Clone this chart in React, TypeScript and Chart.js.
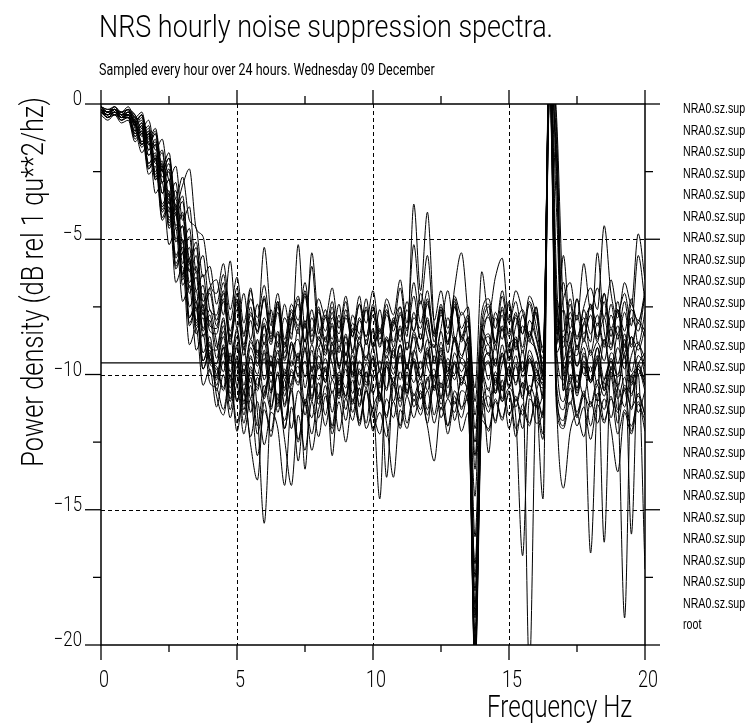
import { useEffect, useRef } from "react";
import { Chart, registerables } from "chart.js";

Chart.register(...registerables);

// Frequency axis (Hz) shared by every hourly spectrum
const freqHz = [0,0.25,0.5,0.75,1,1.25,1.5,1.75,2,2.25,2.5,2.75,3,3.25,3.5,3.75,4,4.25,4.5,4.75,5,5.25,5.5,5.75,6,6.25,6.5,6.75,7,7.25,7.5,7.75,8,8.25,8.5,8.75,9,9.25,9.5,9.75,10,10.25,10.5,10.75,11,11.25,11.5,11.75,12,12.25,12.5,12.75,13,13.25,13.5,13.75,14,14.25,14.5,14.75,15,15.25,15.5,15.75,16,16.25,16.5,16.75,17,17.25,17.5,17.75,18,18.25,18.5,18.75,19,19.25,19.5,19.75,20];

// Hourly power density spectra (dB)
const h00 = [-0.2,-0.4,-0.2,-0.5,-0.3,-0.8,-0.6,-1.7,-1.4,-2.9,-2.5,-4.6,-4.1,-6.6,-6.0,-8.3,-7.6,
  -8.8,-9.9,-8.5,-10.4,-9.0,-10.9,-8.7,-10.2, -9.3,-11.1,-8.8,-9.7,-8.3,-10.5,-9.1,-10.8,
  -8.9,-9.6,-10.7,-8.8,-9.9,-8.6,-10.3,-9.4, -11.0,-8.7,-9.8,-8.9,-10.6,-9.2,-8.5,-9.7,
  -10.1,-8.8,-9.9,-8.6,-10.4,-9.5,-18.0,-9.3, -10.2,-8.9,-10.6,-9.0,-8.7,-10.1,-9.4,-10.5,
  -11.5,2.0,-9.2,-8.6,-10.3,-8.9,-10.0,-9.1, -10.4,-8.7,-9.8,-8.5,-10.6,-9.3,-8.8,-10.1];
const h01 = [-0.1,-0.3,-0.1,-0.4,-0.2,-0.4,-0.9,-0.6,-1.7,-1.3,-2.8,-2.3,-4.3,-3.8,-6.2,-5.6,-7.6,
  -7.8,-6.6,-8.4,-7.2,-8.9,-7.5,-9.2,-7.9, -8.6,-7.3,-9.4,-8.0,-7.1,-8.8,-7.6,-9.0,
  -7.9,-8.7,-7.4,-9.3,-7.8,-8.5,-7.2,-8.9, -7.6,-9.1,-8.0,-8.6,-7.3,-8.4,-7.0,-8.2,
  -9.0,-7.7,-8.8,-7.5,-8.6,-9.2,-12.5,-8.1, -7.4,-8.9,-7.8,-9.4,-8.2,-7.6,-8.7,-9.1,
  -10.2,1.5,-7.9,-8.8,-7.4,-9.0,-8.1,-7.5, -8.6,-7.3,-8.9,-7.7,-9.2,-7.9,-8.4,-7.1];
const h02 = [-0.3,-0.5,-0.3,-0.6,-0.5,-1.2,-1.0,-2.3,-2.0,-3.9,-3.4,-6.0,-5.5,-8.2,-7.6,-9.8,-9.1,
  -10.6,-9.5,-11.3,-10.0,-11.8,-10.4,-12.2,-10.7, -9.9,-11.4,-10.2,-12.0,-10.6,-11.1,-9.8,-11.6,
  -10.4,-11.9,-10.1,-11.3,-9.9,-11.7,-10.5,-12.1, -10.8,-11.5,-10.3,-11.9,-10.0,-11.2,-10.6,-11.8,
  -10.2,-11.6,-10.9,-11.4,-10.1,-11.0,-20.5,-11.3, -10.5,-11.8,-10.2,-11.5,-10.8,-12.0,-10.4,-11.1,
  -12.4,0.8,-10.9,-11.7,-10.3,-11.4,-10.6,-11.9, -10.7,-11.3,-10.1,-11.8,-10.5,-11.2,-10.8,-11.5];
const h03 = [-0.2,-0.3,-0.4,-0.3,-0.5,-0.6,-1.4,-1.0,-2.6,-2.2,-4.2,-3.7,-6.3,-5.7,-8.1,-7.5,-9.4,
  -9.6,-8.4,-10.1,-8.9,-10.7,-9.3,-11.4,-15.5, -10.8,-9.2,-10.5,-8.8,-10.1,-9.5,-11.0,-9.0,
  -10.3,-8.9,-9.7,-10.8,-9.1,-10.4,-8.7,-9.9, -9.5,-10.6,-9.0,-10.2,-8.8,-9.6,-10.9,-9.3,
  -8.9,-10.5,-9.4,-10.0,-8.6,-10.3,-19.5,-10.1, -9.2,-10.7,-9.6,-8.9,-10.4,-9.1,-10.8,-9.5,
  -10.9,2.5,-6.5,-9.8,-9.0,-10.5,-9.3,-10.2, -9.0,-10.6,-9.4,-10.1,-8.7,-10.3,-9.6,-9.2];
const h04 = [-0.1,-0.2,-0.1,-0.3,-0.1,-0.5,-0.3,-1.3,-0.9,-2.3,-1.8,-3.8,-3.0,-2.4,-4.6,-4.9,-6.6,
  -7.0,-5.9,-7.6,-6.4,-8.1,-6.8,-8.5,-7.2, -8.7,-7.4,-9.0,-7.7,-8.3,-7.0,-8.8,-7.6,
  -9.1,-7.9,-8.5,-7.3,-9.2,-8.0,-8.6,-7.5, -8.9,-7.7,-8.2,-6.8,-8.4,-7.1,-8.7,-7.4,
  -8.5,-7.6,-8.9,-7.2,-8.3,-7.8,-11.5,-8.4, -7.5,-8.8,-7.1,-8.5,-7.7,-9.0,-7.3,-8.2,
  -9.6,1.2,-8.4,-7.6,-8.9,-7.2,-8.5,-7.8, -8.8,-7.0,-8.3,-7.6,-9.0,-7.4,-8.1,-6.9];
const h05 = [-0.3,-0.4,-0.2,-0.4,-0.4,-1.1,-0.8,-2.2,-1.9,-3.7,-3.2,-5.7,-5.1,-7.9,-7.3,-9.5,-8.8,
  -10.2,-9.0,-10.9,-9.5,-11.3,-9.9,-10.6,-9.4, -11.2,-10.0,-12.0,-10.3,-9.7,-11.5,-10.1,-10.9,
  -9.8,-11.4,-10.0,-10.8,-9.6,-11.1,-9.9,-11.6, -10.3,-9.7,-11.0,-9.9,-10.7,-9.5,-10.9,-10.2,
  -9.8,-11.1,-10.2,-9.6,-11.3,-10.4,-20.8,-10.0, -11.2,-9.9,-10.6,-9.7,-11.0,-10.3,-21.0,-10.7,
  -9.8,1.8,-1.5,-9.6,-11.1,-10.0,-10.8,-9.7, -11.0,-10.2,-9.5,-10.9,-10.1,-11.3,-9.8,-10.4];
const h06 = [-0.2,-0.3,-0.2,-0.4,-0.3,-0.4,-1.1,-0.8,-2.1,-1.7,-3.4,-2.9,-5.1,-4.6,-6.9,-6.3,-8.2,
  -8.3,-7.2,-8.8,-7.6,-9.3,-8.0,-9.6,-8.2, -8.9,-7.7,-9.5,-8.1,-7.4,-9.1,-7.9,-8.7,
  -7.8,-9.2,-8.0,-9.6,-8.3,-8.9,-7.6,-9.0, -8.4,-9.4,-8.1,-7.5,-8.6,-3.7,-6.9,-4.0,
  -8.2,-9.3,-7.9,-8.8,-7.7,-9.0,-14.5,-8.6, -9.3,-7.9,-8.7,-7.4,-9.1,-8.2,-8.8,-7.7,
  -9.9,1.0,-8.2,-9.0,-7.7,-8.6,-7.9,-9.2, -8.1,-9.0,-7.8,-8.5,-7.3,-8.9,-8.0,-8.4];
const h07 = [-0.4,-0.6,-0.4,-0.7,-0.6,-1.4,-1.1,-2.6,-2.3,-4.3,-3.8,-6.6,-6.0,-8.9,-8.3,-10.4,-9.8,
  -11.2,-10.0,-11.6,-10.4,-12.2,-10.9,-13.0,-11.3, -12.1,-10.7,-12.4,-14.1,-11.5,-12.8,-11.0,-12.3,
  -10.8,-12.0,-10.5,-11.7,-10.2,-11.9,-10.6,-11.4, -12.2,-10.9,-11.6,-10.4,-11.8,-10.7,-11.3,-10.1,
  -11.5,-10.3,-11.9,-10.6,-11.2,-10.9,-21.0,-11.6, -10.8,-11.7,-10.4,-12.0,-10.9,-11.5,-10.6,-11.8,
  -11.3,0.5,-10.7,-11.9,-10.5,-11.6,-10.8,-11.2, -10.4,-11.7,-10.9,-11.4,-10.6,-12.1,-10.7,-11.5];
const h08 = [-0.2,-0.5,-0.3,-0.4,-0.4,-1.0,-0.7,-1.9,-1.5,-3.3,-2.8,-5.1,-4.5,-7.0,-6.4,-8.6,-8.0,
  -9.4,-8.2,-9.9,-8.6,-10.4,-9.0,-9.7,-8.5, -10.0,-8.8,-10.6,-9.2,-8.7,-10.1,-8.9,-9.8,
  -8.6,-10.2,-9.0,-9.6,-8.4,-10.0,-9.3,-10.7, -14.6,-9.5,-10.3,-8.9,-9.8,-8.6,-10.1,-9.2,
  -10.5,-9.1,-10.0,-8.7,-9.6,-10.3,-18.5,-9.7, -8.9,-10.4,-9.2,-10.0,-8.8,-9.9,-9.3,-10.5,
  -14.6,2.8,-9.1,-10.2,-8.9,-9.7,-9.0,-10.3, -9.5,-8.7,-10.1,-9.0,-9.8,-8.6,-10.0,-9.3];
const h09 = [-0.1,-0.3,-0.2,-0.3,-0.2,-0.6,-0.4,-1.5,-1.1,-2.5,-2.0,-3.9,-3.4,-5.7,-5.1,-7.3,-6.8,
  -8.0,-6.9,-8.6,-7.3,-9.0,-7.7,-8.4,-7.1, -8.5,-7.3,-8.9,-7.6,-8.2,-6.9,-8.6,-7.5,
  -8.8,-7.7,-9.2,-7.9,-8.6,-7.4,-8.9,-7.8, -9.0,-7.8,-8.4,-7.5,-9.1,-7.7,-8.7,-7.3,
  -8.6,-7.5,-8.9,-7.4,-8.7,-8.0,-13.0,-8.5, -7.9,-8.8,-7.6,-9.0,-7.8,-8.5,-7.4,-8.6,
  -9.4,1.6,-7.8,-8.4,-7.2,-8.7,-7.5,-6.8, -7.6,-4.5,-7.0,-7.9,-6.6,-7.4,-4.8,-6.5];
const h10 = [-0.3,-0.4,-0.3,-0.5,-0.4,-0.7,-1.5,-1.1,-2.7,-2.3,-4.4,-3.9,-6.4,-5.8,-8.3,-7.7,-9.6,
  -9.8,-10.6,-9.3,-11.0,-9.6,-10.3,-9.1,-10.8, -9.5,-10.9,-9.8,-10.4,-9.2,-11.1,-9.7,-10.2,
  -9.4,-10.7,-9.9,-10.5,-9.3,-10.8,-9.6,-10.1, -9.9,-10.5,-9.1,-10.9,-9.7,-10.3,-9.5,-10.6,
  -9.3,-10.8,-9.6,-10.2,-9.4,-10.6,-19.0,-9.9, -10.6,-9.4,-10.9,-9.7,-10.3,-9.5,-10.7,-9.8,
  -10.4,0.9,-2.0,-10.6,-9.5,-10.8,-9.7,-10.3, -9.6,-10.5,-9.2,-10.7,-19.0,-10.1,-9.8,-10.6];
const h11 = [-0.3,-0.5,-0.4,-0.6,-0.5,-1.3,-1.0,-2.4,-2.0,-4.2,-3.6,-6.1,-5.5,-8.1,-7.5,-9.8,-9.2,
  -10.8,-11.5,-10.2,-12.1,-10.7,-12.6,-13.9,-11.0, -12.3,-10.9,-11.7,-10.5,-12.4,-11.1,-12.8,-11.3,
  -10.7,-12.2,-11.0,-12.5,-10.9,-11.8,-10.6,-12.0, -11.4,-12.3,-11.0,-12.0,-10.8,-11.6,-10.7,-11.9,
  -13.2,-11.2,-11.9,-10.8,-12.1,-11.4,-20.2,-11.7, -12.0,-10.9,-11.6,-10.7,-12.3,-11.1,-11.8,-10.9,
  -12.2,0.4,-11.3,-12.0,-11.0,-11.9,-11.2,-12.4, -11.1,-11.8,-10.8,-12.2,-11.3,-11.9,-11.0,-12.1];
const h12 = [-0.2,-0.3,-0.1,-0.4,-0.3,-0.5,-1.2,-0.9,-2.2,-1.8,-3.7,-3.2,-5.5,-4.9,-7.3,-6.7,-8.4,
  -8.5,-7.3,-8.9,-7.0,-8.6,-6.9,-8.2,-5.3, -7.9,-8.8,-7.4,-8.7,-5.2,-8.3,-6.0,-8.5,
  -7.6,-8.9,-7.8,-9.3,-8.1,-8.7,-7.5,-9.0, -8.3,-9.2,-7.9,-8.8,-7.6,-8.4,-7.3,-8.6,
  -9.0,-7.8,-8.5,-7.3,-8.8,-8.2,-12.0,-8.9, -7.8,-9.1,-7.5,-8.6,-7.9,-9.2,-8.0,-8.7,
  -9.7,2.2,-0.5,-7.6,-9.0,-7.8,-8.8,-7.4, -8.7,-7.9,-9.1,-7.6,-8.4,-7.2,-8.9,-7.7];
const h13 = [-0.3,-0.5,-0.3,-0.5,-0.5,-1.2,-0.9,-2.4,-2.0,-4.0,-3.5,-5.9,-5.3,-7.9,-7.3,-9.5,-8.9,
  -10.4,-9.2,-11.0,-9.7,-11.5,-10.1,-11.9,-10.4, -11.3,-9.9,-12.0,-10.6,-13.2,-10.9,-11.6,-10.3,
  -11.5,-10.2,-10.9,-9.8,-11.4,-10.5,-11.8,-10.0, -10.7,-11.6,-10.1,-11.2,-9.9,-11.0,-10.3,-11.5,
  -10.4,-11.3,-10.0,-11.7,-10.6,-11.1,-17.0,-10.8, -11.4,-10.2,-11.0,-10.5,-11.6,-16.7,-10.9,-11.2,
  -10.6,1.4,-10.4,-11.3,-10.1,-11.5,-10.7,-16.6, -11.0,-10.3,-11.6,-10.5,-11.2,-10.0,-11.4,-10.6];
const h14 = [-0.1,-0.2,-0.2,-0.3,-0.2,-0.7,-0.4,-1.5,-1.1,-2.7,-2.2,-4.1,-3.6,-5.9,-5.3,-7.5,-7.0,
  -8.2,-7.0,-8.7,-7.4,-9.1,-7.8,-8.4,-7.2, -8.8,-7.5,-9.2,-7.9,-8.5,-7.1,-8.9,-7.7,
  -8.4,-7.3,-8.8,-7.6,-9.1,-7.9,-8.6,-7.4, -8.7,-7.6,-9.0,-7.8,-8.3,-6.6,-8.1,-6.9,
  -8.5,-7.4,-8.8,-6.8,-5.5,-7.9,-10.5,-6.2, -7.8,-6.4,-5.7,-8.0,-6.9,-7.7,-8.6,-7.5,
  -9.2,1.3,-7.7,-6.6,-8.3,-7.2,-8.7,-7.4, -8.2,-7.0,-8.6,-7.3,-8.9,-7.6,-8.0,-7.1];
const h15 = [-0.2,-0.4,-0.3,-0.5,-0.3,-0.6,-1.4,-1.0,-2.5,-2.1,-4.0,-3.5,-5.9,-5.3,-7.6,-7.0,-9.0,
  -9.1,-8.0,-9.6,-8.4,-10.0,-8.8,-9.4,-8.2, -9.7,-8.5,-10.2,-8.9,-9.5,-8.1,-9.9,-8.7,
  -9.3,-8.2,-9.8,-8.6,-10.1,-8.9,-9.5,-8.4, -9.9,-8.7,-9.4,-8.3,-9.8,-8.5,-9.2,-8.0,
  -9.6,-8.4,-9.9,-8.6,-9.3,-8.8,-16.0,-9.4, -8.6,-9.7,-8.3,-9.5,-8.7,-9.9,-8.5,-9.2,
  -10.0,1.9,-8.9,-5.6,-8.7,-9.3,-8.1,-8.8, -5.5,-8.4,-9.0,-8.2,-9.4,-8.6,-9.1,-8.3];
const h16 = [-0.3,-0.4,-0.3,-0.6,-0.4,-1.1,-0.8,-2.2,-1.8,-3.8,-3.3,-5.6,-5.0,-7.5,-6.9,-9.2,-8.6,
  -10.0,-8.9,-10.5,-9.3,-11.0,-9.7,-10.4,-9.1, -10.6,-9.4,-11.1,-9.8,-10.3,-9.0,-10.8,-9.6,
  -10.2,-9.1,-10.7,-9.5,-11.0,-9.8,-10.4,-9.3, -10.8,-9.6,-10.3,-9.2,-10.7,-9.4,-10.1,-9.0,
  -10.5,-9.3,-10.8,-9.5,-10.2,-9.7,-20.5,-10.3, -9.5,-10.6,-9.2,-10.4,-9.6,-10.8,-9.4,-10.1,
  -10.3,1.1,-4.0,-10.4,-9.1,-10.6,-9.5,-10.2, -9.3,-16.2,-9.7,-10.5,-9.2,-15.9,-9.6,-10.4];
const h17 = [-0.2,-0.4,-0.3,-0.4,-0.4,-0.7,-1.5,-1.1,-2.8,-2.4,-4.5,-4.0,-6.5,-5.9,-8.2,-7.6,-9.5,
  -9.7,-10.5,-9.2,-11.0,-9.8,-11.4,-10.1,-10.9, -9.6,-11.2,-9.9,-10.6,-9.3,-13.5,-10.0,-11.1,
  -9.7,-13.0,-10.2,-10.9,-9.5,-11.2,-9.9,-10.7, -9.8,-13.8,-10.4,-11.0,-9.6,-10.8,-10.1,-11.3,
  -10.0,-10.9,-9.7,-11.1,-10.3,-10.6,-20.0,-10.4, -12.9,-10.1,-11.0,-9.8,-11.2,-10.3,-10.7,-9.9,
  -10.8,2.1,-9.4,-11.0,-10.0,-10.5,-9.7,-11.1, -10.2,-10.8,-9.9,-11.3,-10.4,-10.7,-10.0,-17.2];
const h18 = [-0.2,-0.3,-0.2,-0.4,-0.2,-0.8,-0.5,-1.7,-1.3,-2.9,-2.4,-4.5,-4.0,-6.2,-5.6,-7.8,-6.8,
  -6.5,-7.8,-5.8,-8.3,-7.0,-8.7,-7.4,-8.9, -7.6,-9.0,-7.9,-8.5,-7.2,-8.8,-5.5,-8.2,
  -8.7,-7.5,-9.0,-7.8,-8.4,-7.1,-8.9,-7.6, -8.5,-7.4,-8.8,-7.7,-9.1,-7.9,-8.3,-7.2,
  -8.8,-7.6,-9.2,-7.5,-8.6,-7.9,-13.5,-8.3, -8.9,-7.7,-8.4,-7.3,-9.0,-7.8,-8.6,-7.5,
  -10.1,1.7,-7.3,-8.6,-7.9,-9.1,-7.6,-8.5, -7.8,-8.9,-7.4,-8.7,-7.7,-9.0,-8.1,-8.6];
const h19 = [-0.3,-0.5,-0.4,-0.5,-0.5,-0.9,-1.8,-1.4,-3.3,-2.9,-5.2,-4.6,-7.3,-6.7,-9.1,-8.5,-10.3,
  -10.5,-11.3,-10.0,-11.8,-10.6,-12.3,-11.0,-12.6, -11.4,-12.0,-14.1,-11.2,-12.5,-11.0,-12.2,-10.8,
  -11.9,-10.6,-12.1,-10.9,-11.7,-10.5,-12.0,-11.2, -10.7,-11.8,-13.8,-11.3,-12.0,-10.9,-11.5,-10.6,
  -11.8,-10.8,-12.2,-11.0,-11.6,-10.7,-19.8,-11.4, -12.1,-11.0,-11.7,-10.6,-12.0,-11.3,-11.9,-10.8,
  -11.6,0.6,-11.0,-14.2,-12.1,-11.5,-12.3,-11.0, -11.8,-10.9,-12.0,-13.6,-11.4,-12.2,-11.1,-11.7];
const h20 = [-0.2,-0.4,-0.2,-0.5,-0.4,-1.0,-0.7,-1.9,-1.5,-3.3,-2.8,-5.0,-4.5,-6.8,-6.2,-8.4,-7.8,
  -9.0,-7.9,-9.5,-8.3,-9.9,-8.7,-9.3,-8.1, -9.6,-8.4,-10.0,-8.8,-9.4,-8.0,-9.8,-8.6,
  -9.2,-8.1,-9.7,-8.5,-10.0,-8.8,-9.4,-8.3, -9.8,-8.6,-9.3,-8.2,-9.7,-8.4,-9.1,-7.9,
  -9.5,-8.3,-6.9,-8.7,-9.4,-8.6,-17.5,-9.2, -8.5,-9.6,-8.2,-9.4,-8.6,-9.8,-8.4,-9.1,
  -9.9,2.6,-3.0,-9.5,-8.4,-9.7,-8.7,-9.3, -8.8,-9.5,-8.3,-9.6,-8.5,-9.9,-8.9,-9.4];
const h21 = [-0.3,-0.4,-0.2,-0.5,-0.5,-0.8,-1.6,-1.2,-2.8,-2.4,-4.6,-4.1,-6.7,-6.1,-8.5,-7.9,-9.9,
  -10.1,-9.0,-10.7,-9.4,-11.1,-9.8,-10.5,-9.2, -10.7,-9.5,-11.2,-9.9,-10.4,-9.1,-10.9,-9.7,
  -10.3,-9.2,-10.8,-9.6,-11.1,-9.9,-10.5,-9.4, -10.9,-9.7,-10.4,-9.3,-10.8,-9.5,-10.2,-9.1,
  -10.6,-9.4,-10.9,-9.6,-10.3,-9.8,-21.0,-10.5, -9.6,-10.7,-9.3,-10.5,-9.7,-10.9,-9.5,-10.2,
  -10.5,1.3,-2.5,-10.6,-9.3,-10.7,-9.6,-10.3, -9.4,-10.6,-9.8,-10.4,-9.3,-10.8,-9.7,-10.2];
const h22 = [-0.1,-0.3,-0.2,-0.4,-0.2,-0.7,-0.4,-1.4,-1.0,-2.5,-2.0,-3.5,-2.7,-4.3,-4.6,-6.4,-6.0,
  -7.4,-6.3,-8.0,-6.8,-8.5,-7.2,-7.9,-6.7, -8.2,-7.0,-8.7,-7.4,-8.0,-6.6,-8.4,-7.2,
  -7.9,-6.8,-8.3,-7.1,-8.6,-7.4,-8.1,-6.9, -8.4,-7.2,-7.8,-6.5,-8.1,-5.2,-7.4,-5.6,
  -8.0,-6.9,-8.3,-7.1,-7.8,-7.5,-11.0,-7.7, -7.2,-8.3,-6.9,-8.1,-7.3,-8.5,-7.1,-7.8,
  -9.0,1.5,-8.5,-7.2,-6.6,-8.0,-5.9,-7.6, -6.8,-7.9,-6.5,-7.7,-7.0,-8.2,-5.6,-7.3];
const h23 = [-0.3,-0.5,-0.3,-0.5,-0.4,-0.7,-1.5,-1.1,-2.7,-2.3,-4.3,-3.8,-6.3,-5.7,-8.0,-7.4,-9.4,
  -9.6,-8.6,-10.2,-9.0,-10.6,-9.4,-10.0,-8.8, -10.3,-9.1,-10.8,-9.5,-10.0,-8.7,-10.5,-9.3,
  -9.9,-8.8,-10.4,-9.2,-10.7,-9.5,-10.1,-9.0, -10.5,-9.3,-10.0,-8.9,-10.4,-9.1,-9.8,-8.7,
  -10.2,-9.0,-10.5,-9.2,-9.9,-9.4,-18.8,-10.1, -9.2,-10.3,-8.9,-10.1,-9.3,-10.5,-9.1,-9.8,
  -10.2,2.3,-1.0,-10.0,-8.8,-10.3,-9.2,-9.9, -9.0,-10.2,-9.5,-10.0,-8.9,-10.4,-9.3,-9.7];

const hourlySpectra = [h00,h01,h02,h03,h04,h05,h06,h07,h08,h09,h10,h11,h12,h13,h14,h15,h16,h17,h18,h19,h20,h21,h22,h23];
const seriesLabel = "NRA0.sz.sup";
const rootLabel = "root";
const rootLevel = -9.57;
const rootRange = [0, 20];

const xMajorTicks = [0, 5, 10, 15, 20];
const xMinorTicks = [2.5, 7.5, 12.5, 17.5];
const yMajorTicks = [0, -5, -10, -15, -20];
const yMinorTicks = [-2.5, -7.5, -12.5, -17.5];
const xTickLabels = ["0", "5", "10", "15", "20"];
const yTickLabels = ["0", "\u22125", "\u221210", "\u221215", "\u221220"];
const xGridValues = [5, 10, 15];
const yGridValues = [-5, -10, -15];

const titleText = "NRS hourly noise suppression spectra.";
const subtitleText = "Sampled every hour over 24 hours. Wednesday 09 December";
const xTitleText = "Frequency Hz";
const yTitleText = "Power density (dB rel 1 qu**2/hz)";

const HERSHEY = "Roboto, 'DejaVu Sans', sans-serif";
const NARROW = "'Liberation Sans', Arial, sans-serif";

function squeezedText(
  ctx: CanvasRenderingContext2D,
  text: string,
  x: number,
  y: number,
  font: string,
  sx: number,
  align: CanvasTextAlign,
  rotate = 0
) {
  ctx.save();
  ctx.font = font;
  ctx.fillStyle = "#000";
  ctx.textAlign = align;
  ctx.textBaseline = "alphabetic";
  ctx.translate(x, y);
  if (rotate) ctx.rotate(rotate);
  ctx.scale(sx, 1);
  ctx.fillText(text, 0, 0);
  ctx.restore();
}

const framePlugin = {
  id: "noiseFrame",
  beforeDatasetsDraw(chart: any) {
    const { ctx, chartArea: a, scales } = chart;
    const xs = scales.x;
    const ys = scales.y;
    ctx.save();
    ctx.strokeStyle = "#000";
    ctx.lineWidth = 1;
    ctx.setLineDash([4, 3]);
    for (const v of xGridValues) {
      const px = Math.round(xs.getPixelForValue(v)) + 0.5;
      ctx.beginPath();
      ctx.moveTo(px, a.top);
      ctx.lineTo(px, a.bottom);
      ctx.stroke();
    }
    for (const v of yGridValues) {
      const py = Math.round(ys.getPixelForValue(v)) + 0.5;
      ctx.beginPath();
      ctx.moveTo(a.left, py);
      ctx.lineTo(a.right, py);
      ctx.stroke();
    }
    ctx.restore();
  },
  afterDatasetsDraw(chart: any) {
    const { ctx, chartArea: a, scales } = chart;
    const xs = scales.x;
    const ys = scales.y;
    ctx.save();
    ctx.strokeStyle = "#000";
    ctx.lineWidth = 1.5;
    ctx.setLineDash([]);
    ctx.beginPath();
    ctx.rect(a.left, a.top, a.right - a.left, a.bottom - a.top);
    ctx.stroke();
    ctx.lineWidth = 1.3;
    const line = (x1: number, y1: number, x2: number, y2: number) => {
      ctx.beginPath();
      ctx.moveTo(x1, y1);
      ctx.lineTo(x2, y2);
      ctx.stroke();
    };
    for (const v of yMajorTicks) {
      const py = ys.getPixelForValue(v);
      line(a.left - 16, py, a.left, py);
      line(a.right, py, a.right + 15, py);
    }
    for (const v of yMinorTicks) {
      const py = ys.getPixelForValue(v);
      line(a.left - 8, py, a.left, py);
      line(a.right, py, a.right + 8, py);
    }
    for (const v of xMajorTicks) {
      const px = xs.getPixelForValue(v);
      line(px, a.bottom, px, a.bottom + 15);
      line(px, a.top, px, a.top - 14);
    }
    for (const v of xMinorTicks) {
      const px = xs.getPixelForValue(v);
      line(px, a.bottom, px, a.bottom + 7);
      line(px, a.top, px, a.top - 8);
    }
    ctx.restore();

    // tick labels
    yMajorTicks.forEach((v, i) => {
      const py = ys.getPixelForValue(v);
      squeezedText(ctx, yTickLabels[i], a.left - 19, py + 1, `300 21px ${HERSHEY}`, 0.8, "right");
    });
    xMajorTicks.forEach((v, i) => {
      const px = xs.getPixelForValue(v);
      squeezedText(ctx, xTickLabels[i], px + 3, a.bottom + 42, `300 24px ${HERSHEY}`, 0.75, "center");
    });

    // titles
    squeezedText(ctx, titleText, 99, 37, `300 31px ${HERSHEY}`, 0.87, "left");
    squeezedText(ctx, subtitleText, 99, 75, `16px ${HERSHEY}`, 0.78, "left");
    squeezedText(ctx, xTitleText, 487, 717, `300 31px ${HERSHEY}`, 0.78, "left");
    squeezedText(ctx, yTitleText, 43, 282, `300 31px ${HERSHEY}`, 0.82, "center", -Math.PI / 2);

    // legend list
    chart.data.datasets.forEach((ds: any, i: number) => {
      squeezedText(ctx, ds.label, 683, 113 + i * 21.5, `14px ${NARROW}`, 0.76, "left");
    });
  },
};

export default function App() {
  const ref = useRef<HTMLCanvasElement | null>(null);
  useEffect(() => {
    document.body.style.margin = "0";
    const canvas = ref.current;
    if (!canvas) return;
    const datasets: any[] = hourlySpectra.map((vals) => ({
      label: seriesLabel,
      data: vals.map((v, i) => ({ x: freqHz[i], y: v })),
      borderColor: "#000",
      borderWidth: 1,
      pointRadius: 0,
      fill: false,
      cubicInterpolationMode: "monotone",
    }));
    datasets.push({
      label: rootLabel,
      data: rootRange.map((f) => ({ x: f, y: rootLevel })),
      borderColor: "#000",
      borderWidth: 1.3,
      pointRadius: 0,
      fill: false,
    });
    const chart = new Chart(canvas, {
      type: "line",
      data: { datasets },
      options: {
        animation: false,
        responsive: false,
        events: [],
        layout: { padding: { left: 101, top: 104, right: 105, bottom: 80 } },
        plugins: { legend: { display: false }, tooltip: { enabled: false }, title: { display: false } },
        scales: {
          x: { type: "linear", min: 0, max: 20, display: false },
          y: { type: "linear", min: -20, max: 0, display: false },
        },
      },
      plugins: [framePlugin],
    });
    return () => chart.destroy();
  }, []);
  return <canvas ref={ref} width={750} height={725} style={{ display: "block" }} />;
}
